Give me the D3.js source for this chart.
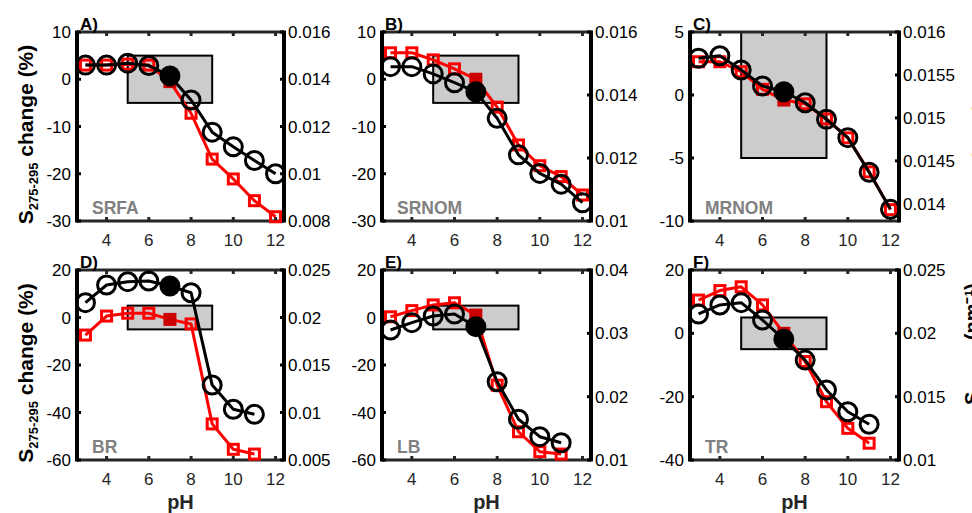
<!DOCTYPE html>
<html>
<head>
<meta charset="utf-8">
<script src="https://cdn.jsdelivr.net/npm/d3@7"></script>
<style>
  body { margin: 0; background: #fff; }
  svg { display: block; font-family: "Liberation Sans", Arial, Helvetica, sans-serif; }
</style>
</head>
<body>
<svg id="chart" width="972" height="513"></svg>
<script>
// ---- data ----
const pHFull = [3, 4, 5, 6, 7, 8, 9, 10, 11, 12];
const pHShort = [3, 4, 5, 6, 7, 8, 9, 10, 11];
const pHTicks = [4, 6, 8, 10, 12];
const refPH = 7;

// change (%) -> left axis, slope S275-295 -> right axis
const srfaChange  = [3.0, 3.0, 3.2, 3.0, -0.5, -7.2, -16.9, -21.1, -25.7, -29.1];
const srfaSlope   = [0.0146, 0.0146, 0.01468, 0.01458, 0.01414, 0.01312, 0.01176, 0.01114, 0.01056, 0.0100];
const srnomChange = [5.6, 5.6, 4.1, 2.2, 0.0, -5.9, -13.9, -18.3, -20.6, -24.5];
const srnomSlope  = [0.0149, 0.0149, 0.01467, 0.01439, 0.0141, 0.01326, 0.0121, 0.01151, 0.01117, 0.01058];
const mrnomChange = [2.64, 2.64, 1.85, 0.45, -0.4, -0.7, -1.9, -3.4, -6.1, -9.1];
const mrnomSlope  = [0.015694, 0.015724, 0.015558, 0.015371, 0.015305, 0.015177, 0.014984, 0.01477, 0.014367, 0.013936];
const brChange    = [-7.4, 0.6, 1.8, 1.8, -0.8, -2.7, -44.8, -55.5, -57.5];
const brSlope     = [0.02156, 0.02342, 0.02377, 0.02384, 0.02332, 0.02261, 0.01289, 0.01034, 0.00981];
const lbChange    = [0.3, 2.9, 5.3, 6.2, 1.0, -28.5, -48.1, -56.5, -57.5];
const lbSlope     = [0.03053, 0.03168, 0.03274, 0.03305, 0.03105, 0.02236, 0.01643, 0.01368, 0.01273];
const trChange    = [10.5, 13.5, 14.7, 9.0, 0.0, -8.9, -21.6, -30.0, -34.7];
const trSlope     = [0.02153, 0.02224, 0.02242, 0.02105, 0.01953, 0.01789, 0.01553, 0.01381, 0.01282];

const panelLetters = ["A)", "B)", "C)", "D)", "E)", "F)"];
const sampleNames  = ["SRFA", "SRNOM", "MRNOM", "BR", "LB", "TR"];
const leftTicks = [
  [-30, -20, -10, 0, 10], [-30, -20, -10, 0, 10], [-10, -5, 0, 5],
  [-60, -40, -20, 0, 20], [-60, -40, -20, 0, 20], [-40, -20, 0, 20]
];
const rightTicks = [
  [0.008, 0.01, 0.012, 0.014, 0.016], [0.01, 0.012, 0.014, 0.016],
  [0.014, 0.0145, 0.015, 0.0155, 0.016],
  [0.005, 0.01, 0.015, 0.02, 0.025], [0.01, 0.02, 0.03, 0.04], [0.01, 0.015, 0.02, 0.025]
];
const rightDomains = [[0.008, 0.016], [0.01, 0.016], [0.0138, 0.016], [0.005, 0.025], [0.01, 0.04], [0.01, 0.025]];
const boxRange = { pH: [5, 9], change: [-5, 5] };   // +-5% window, pH 5-9

const panels = [
  { ph: pHFull,  change: srfaChange,  slope: srfaSlope },
  { ph: pHFull,  change: srnomChange, slope: srnomSlope },
  { ph: pHFull,  change: mrnomChange, slope: mrnomSlope },
  { ph: pHShort, change: brChange,    slope: brSlope },
  { ph: pHShort, change: lbChange,    slope: lbSlope },
  { ph: pHShort, change: trChange,    slope: trSlope }
];

// ---- layout ----
const colX = [[77, 284], [382, 591], [690, 899]];
const rowY = [[32, 221], [270, 460]];
const xDomain = [2.6, 12.4];

const svg = d3.select("#chart");

panels.forEach((p, i) => {
  let col = i % 3, row = Math.floor(i / 3);
  let [x0, x1] = colX[col], [y0, y1] = rowY[row];
  let lt = leftTicks[i];

  let x = d3.scaleLinear().domain(xDomain).range([x0, x1]);
  let yL = d3.scaleLinear().domain([lt[0], lt[lt.length - 1]]).range([y1, y0]);
  let yR = d3.scaleLinear().domain(rightDomains[i]).range([y1, y0]);

  let g = svg.append("g");

  // grey +-5% box
  g.append("rect")
    .attr("x", x(boxRange.pH[0])).attr("y", yL(boxRange.change[1]))
    .attr("width", x(boxRange.pH[1]) - x(boxRange.pH[0]))
    .attr("height", yL(boxRange.change[0]) - yL(boxRange.change[1]))
    .attr("fill", "#cccccc").attr("stroke", "#000").attr("stroke-width", 2);

  // axes frame
  g.append("line").attr("x1", x0).attr("x2", x1).attr("y1", y0).attr("y2", y0)
    .attr("stroke", "#262626").attr("stroke-width", 3);
  g.append("line").attr("x1", x0).attr("x2", x1).attr("y1", y1).attr("y2", y1)
    .attr("stroke", "#262626").attr("stroke-width", 3);
  g.append("line").attr("x1", x0).attr("x2", x0).attr("y1", y0 - 1.5).attr("y2", y1 + 1.5)
    .attr("stroke", "#000").attr("stroke-width", 4);
  g.append("line").attr("x1", x1).attr("x2", x1).attr("y1", y0 - 1.5).attr("y2", y1 + 1.5)
    .attr("stroke", "#000").attr("stroke-width", 4);

  // x ticks (inward, top and bottom)
  pHTicks.forEach(t => {
    g.append("line").attr("x1", x(t)).attr("x2", x(t)).attr("y1", y1).attr("y2", y1 - 4)
      .attr("stroke", "#262626").attr("stroke-width", 3);
    g.append("line").attr("x1", x(t)).attr("x2", x(t)).attr("y1", y0).attr("y2", y0 + 4)
      .attr("stroke", "#262626").attr("stroke-width", 3);
    g.append("text").attr("x", x(t)).attr("y", y1 + 25)
      .attr("text-anchor", "middle").attr("font-size", 17).attr("fill", "#262626")
      .text(t);
  });

  // left ticks
  lt.forEach(t => {
    g.append("line").attr("x1", x0).attr("x2", x0 + 4).attr("y1", yL(t)).attr("y2", yL(t))
      .attr("stroke", "#000").attr("stroke-width", 3);
    g.append("text").attr("x", x0 - 6).attr("y", yL(t) + 6)
      .attr("text-anchor", "end").attr("font-size", 17).attr("fill", "#000")
      .text(t);
  });

  // right ticks
  rightTicks[i].forEach(t => {
    g.append("line").attr("x1", x1).attr("x2", x1 - 4).attr("y1", yR(t)).attr("y2", yR(t))
      .attr("stroke", "#000").attr("stroke-width", 3);
    g.append("text").attr("x", x1 + 4).attr("y", yR(t) + 6)
      .attr("text-anchor", "start").attr("font-size", 17).attr("fill", "#000")
      .text(String(t));
  });

  // panel letter and sample name
  g.append("text").attr("x", x0 + 3).attr("y", y0 - 2)
    .attr("font-size", 17).attr("font-weight", "bold").text(panelLetters[i]);
  g.append("text").attr("x", x0 + 15).attr("y", y1 - 7)
    .attr("font-size", 17.5).attr("font-weight", "bold").attr("fill", "#808080")
    .text(sampleNames[i]);

  // red series: change (%)
  let redPts = p.ph.map((v, k) => [x(v), yL(p.change[k]), v]);
  g.append("path").attr("d", d3.line()(redPts.map(d => [d[0], d[1]])))
    .attr("fill", "none").attr("stroke", "#ff0000").attr("stroke-width", 3)
    .attr("stroke-linejoin", "round");
  let sq = 10;
  g.selectAll(".sq").data(redPts).join("rect")
    .attr("x", d => d[0] - sq / 2).attr("y", d => d[1] - sq / 2)
    .attr("width", sq).attr("height", sq)
    .attr("fill", d => d[2] === refPH ? "#cc0000" : "none")
    .attr("stroke", d => d[2] === refPH ? "#cc0000" : "#ff0000")
    .attr("stroke-width", 3);

  // black series: slope
  let blackPts = p.ph.map((v, k) => [x(v), yR(p.slope[k]), v]);
  g.append("path").attr("d", d3.line()(blackPts.map(d => [d[0], d[1]])))
    .attr("fill", "none").attr("stroke", "#000").attr("stroke-width", 3)
    .attr("stroke-linejoin", "round");
  g.selectAll(".ci").data(blackPts).join("circle")
    .attr("cx", d => d[0]).attr("cy", d => d[1]).attr("r", 9)
    .attr("fill", d => d[2] === refPH ? "#000" : "none")
    .attr("stroke", "#000").attr("stroke-width", 3);

  // pH label under bottom row
  if (row === 1) {
    g.append("text").attr("x", (x0 + x1) / 2).attr("y", 509)
      .attr("text-anchor", "middle").attr("font-size", 20).attr("font-weight", "bold")
      .attr("fill", "#262626").text("pH");
  }
});

// left y labels, one per row
rowY.forEach(([y0, y1]) => {
  let t = svg.append("text")
    .attr("transform", `translate(33,${(y0 + y1) / 2 + 8}) rotate(-90)`)
    .attr("text-anchor", "middle").attr("font-weight", "bold").attr("font-size", 21);
  t.append("tspan").text("S");
  t.append("tspan").attr("font-size", 13).attr("dy", 5).text("275-295");
  t.append("tspan").attr("dy", -5).text(" change (%)");
});

// right y labels, almost entirely beyond the page edge
[[987, 225], [979, 405]].forEach(([bx, by]) => {
  let t = svg.append("text")
    .attr("transform", `translate(${bx},${by}) rotate(-90)`)
    .attr("text-anchor", "start").attr("font-weight", "bold").attr("font-size", 20);
  t.append("tspan").text("S");
  t.append("tspan").attr("font-size", 12.5).attr("dy", 5).text("275-295");
  t.append("tspan").attr("dy", -5).text(" (nm\u207B\u00B9)");
});
</script>
</body>
</html>
